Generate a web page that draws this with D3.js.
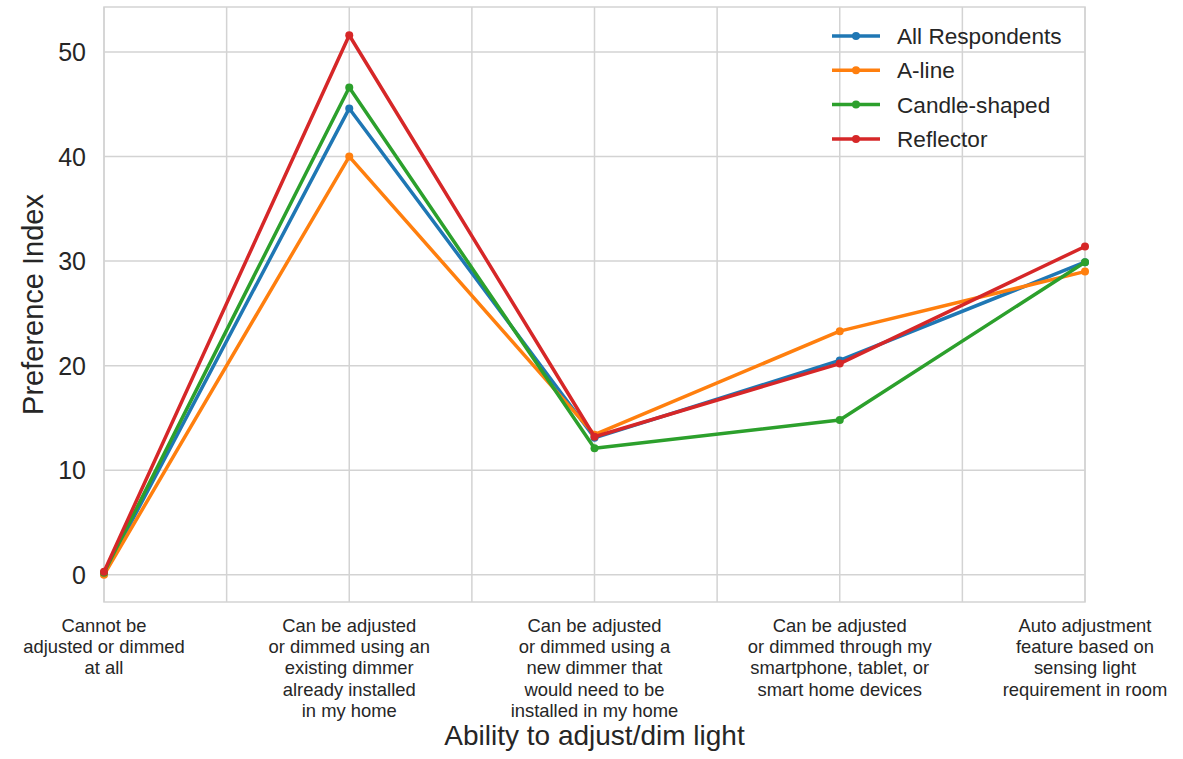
<!DOCTYPE html>
<html>
<head>
<meta charset="utf-8">
<script src="https://cdn.jsdelivr.net/npm/d3@7"></script>
<style>
  html, body { margin: 0; padding: 0; background: #fff; }
  svg { display: block; font-family: "Liberation Sans", Arial, sans-serif; }
</style>
</head>
<body>
<svg id="chart" width="1183" height="759"></svg>
<script>
const categories = [
  "Cannot be\nadjusted or dimmed\nat all",
  "Can be adjusted\nor dimmed using an\nexisting dimmer\nalready installed\nin my home",
  "Can be adjusted\nor dimmed using a\nnew dimmer that\nwould need to be\ninstalled in my home",
  "Can be adjusted\nor dimmed through my\nsmartphone, tablet, or\nsmart home devices",
  "Auto adjustment\nfeature based on\nsensing light\nrequirement in room"
];
const seriesNames = ["All Respondents", "A-line", "Candle-shaped", "Reflector"];
const seriesColors = ["#1f77b4", "#ff7f0e", "#2ca02c", "#d62728"];
const allRespondents = [0.1, 44.6, 13.1, 20.5, 29.9];
const aLine = [0.0, 40.0, 13.4, 23.3, 29.0];
const candleShaped = [0.2, 46.6, 12.1, 14.8, 29.9];
const reflector = [0.3, 51.6, 13.2, 20.2, 31.4];
const yTicks = [0, 10, 20, 30, 40, 50];
const xLabel = "Ability to adjust/dim light";
const yLabel = "Preference Index";

const seriesValues = [allRespondents, aLine, candleShaped, reflector];

const svg = d3.select("#chart");
const L = 104, R = 1085, T = 7, B = 602;

const x = d3.scaleLinear().domain([0, categories.length - 1]).range([L, R]);
const y = d3.scaleLinear().domain([-2.6, 54.3]).range([B, T]);

const gridColor = "#d3d3d3";

// vertical grid (every half step)
const xGrid = d3.range(0, categories.length - 1 + 0.001, 0.5);
svg.append("g").selectAll("line").data(xGrid).join("line")
  .attr("x1", d => x(d)).attr("x2", d => x(d))
  .attr("y1", T).attr("y2", B)
  .attr("stroke", gridColor).attr("stroke-width", 1.5);

// horizontal grid
svg.append("g").selectAll("line").data(yTicks).join("line")
  .attr("x1", L).attr("x2", R)
  .attr("y1", d => y(d)).attr("y2", d => y(d))
  .attr("stroke", gridColor).attr("stroke-width", 1.5);

// frame
svg.append("rect").attr("x", L).attr("y", T).attr("width", R - L).attr("height", B - T)
  .attr("fill", "none").attr("stroke", gridColor).attr("stroke-width", 1.5);

// y tick labels
svg.append("g").selectAll("text").data(yTicks).join("text")
  .attr("x", L - 18).attr("y", d => y(d))
  .attr("dy", "0.36em")
  .attr("text-anchor", "end")
  .attr("font-size", 25).attr("fill", "#262626")
  .text(d => d);

// x tick labels
const xt = svg.append("g").selectAll("text").data(categories).join("text")
  .attr("text-anchor", "middle")
  .attr("font-size", 18.4).attr("fill", "#262626");
xt.each(function(d, i) {
  const lines = d.split("\n");
  d3.select(this).selectAll("tspan").data(lines).join("tspan")
    .attr("x", x(i))
    .attr("y", (l, j) => 632 + j * 21.2)
    .text(l => l);
});

// axis labels
svg.append("text").attr("x", (L + R) / 2).attr("y", 745)
  .attr("text-anchor", "middle").attr("font-size", 28).attr("fill", "#262626")
  .text(xLabel);
svg.append("text")
  .attr("transform", `translate(43,${(T + B) / 2}) rotate(-90)`)
  .attr("text-anchor", "middle").attr("font-size", 29).attr("fill", "#262626")
  .text(yLabel);

// lines
const line = d3.line().x((d, i) => x(i)).y(d => y(d));
seriesValues.forEach((vals, si) => {
  const g = svg.append("g");
  g.append("path").datum(vals)
    .attr("d", line)
    .attr("fill", "none")
    .attr("stroke", seriesColors[si])
    .attr("stroke-width", 3.5)
    .attr("stroke-linejoin", "round")
    .attr("stroke-linecap", "square");
  g.selectAll("circle").data(vals).join("circle")
    .attr("cx", (d, i) => x(i)).attr("cy", d => y(d))
    .attr("r", 4).attr("fill", seriesColors[si]);
});

// legend
const lg = svg.append("g");
seriesNames.forEach((name, i) => {
  const cy = 36 + i * 34.3;
  lg.append("line").attr("x1", 832).attr("x2", 880).attr("y1", cy).attr("y2", cy)
    .attr("stroke", seriesColors[i]).attr("stroke-width", 3.5);
  lg.append("circle").attr("cx", 856).attr("cy", cy).attr("r", 4).attr("fill", seriesColors[i]);
  lg.append("text").attr("x", 897).attr("y", cy).attr("dy", "0.36em")
    .attr("font-size", 22.6).attr("fill", "#262626").text(name);
});
</script>
</body>
</html>
